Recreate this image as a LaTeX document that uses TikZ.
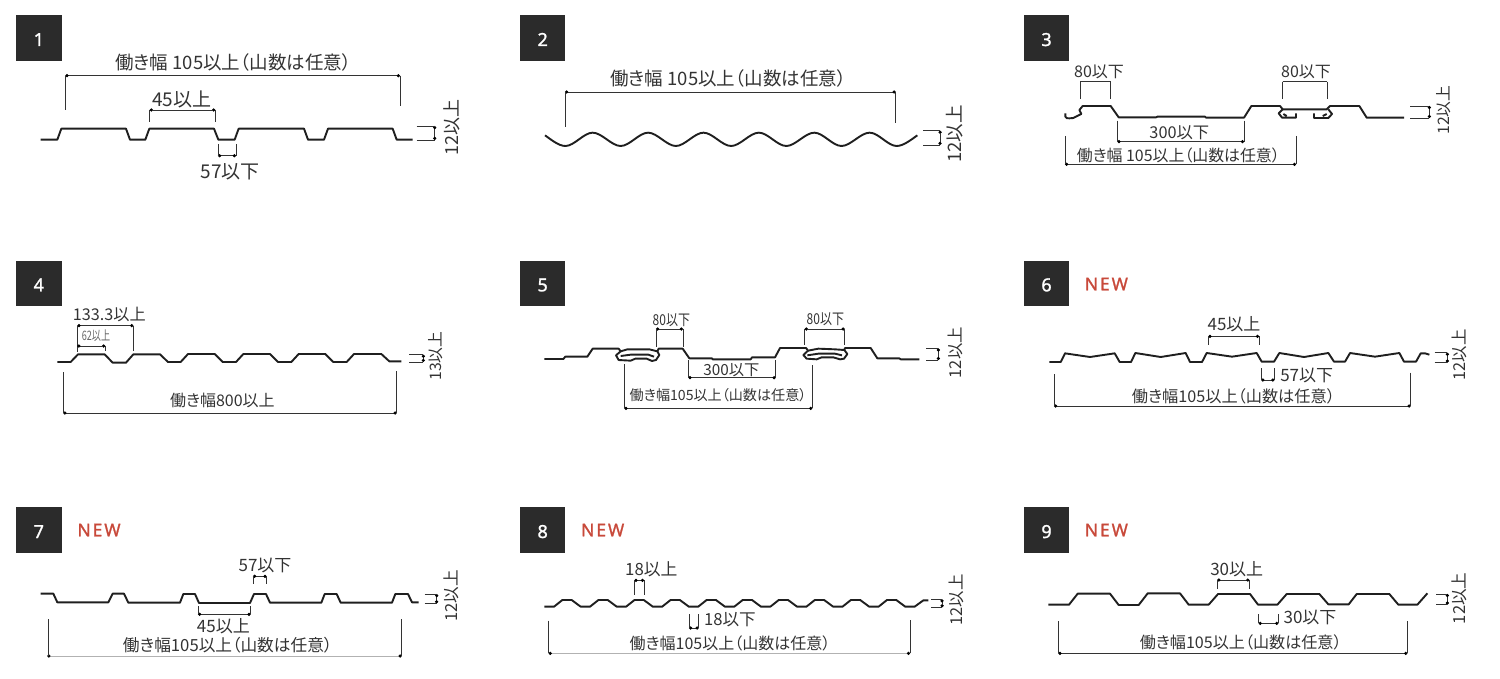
\documentclass[tikz,border=0pt]{standalone}
\usepackage{fontspec}
\setmainfont{Noto Sans CJK JP}[RawFeature=+palt]
\newfontfamily\badgefont{Noto Sans}[FakeBold=1.3]
\newfontfamily\tagfont{Noto Sans}[LetterSpace=11,FakeBold=1.3]
\usetikzlibrary{arrows.meta}
\definecolor{badgegray}{HTML}{2B2B2B}
\definecolor{inkgray}{HTML}{333333}
\definecolor{tagred}{HTML}{C8493A}
\tikzset{
    sheet/.style={draw=black!88,line width=1.9pt,line join=round},
    guide/.style={draw=inkgray,line width=.7pt},
    span/.style={guide,{Circle[length=3.2pt,black]}-{Circle[length=3.2pt,black]}},
    fadedspan/.style={span,draw=black!30},
    dimlabel/.style={inner sep=0pt,text=inkgray,font=\fontsize{#1pt}{#1pt}\selectfont},
    dimlabel/.default=15,
    upright/.style={dimlabel=#1,rotate=90},
    upright/.default=16,
    badge/.style={fill=badgegray,text=white,minimum size=45.5pt,inner sep=0pt,
        text height=16pt,text depth=0pt,font=\badgefont\fontsize{18pt}{18pt}\selectfont},
    tag/.style={inner sep=0pt,text=tagred,font=\tagfont\fontsize{17.5pt}{18pt}\selectfont}
}

\begin{document}
\begin{tikzpicture}[x=0.33333pt,y=-0.33333pt]
    \useasboundingbox (0,0) rectangle (4500,2037);
    \begin{scope}[
        yshift=-10pt
    ]
        \node[badge] (badge1) at (116.5,84) {1};
        \draw[sheet] (122,389) -- (172,389) -- (184,356) -- (378,356) -- (390,389) -- (436,389)
            -- (448,356) -- (642,356) -- (655,389) -- (704,389) -- (716,356) -- (912,356)
            -- (924,389) -- (972,389) -- (984,356) -- (1178,356) -- (1190,389) -- (1238,389);
        \draw[span] (196,197) -- (1200,197);
        \draw[guide] (196,197) -- (196,300) (1200,197) -- (1200,288);
        \node[dimlabel=18.5] (width1) at (700,158) {働き幅 105以上（山数は任意）};
        \draw[span] (449,300) -- (646,300);
        \draw[guide] (449,300) -- (449,337) (646,300) -- (646,337);
        \node[dimlabel=19] (crest1) at (545,268) {45以上};
        \draw[span] (654,437) -- (708,437);
        \draw[guide] (654,402) -- (654,437) (708,402) -- (708,437);
        \node[dimlabel=19] (gap1) at (690,486) {57以下};
        \draw[span] (1304,348) -- (1304,390);
        \draw[guide] (1250,348) -- (1304,348) (1250,390) -- (1304,390);
        \node[upright=18] (rise1) at (1354,352) {12以上};
    \end{scope}
    \begin{scope}[
        xshift=510pt,
        yshift=-10pt
    ]
        \node[badge] (badge2) at (98,84) {2};
        \draw[sheet,looseness=.75] (105,376) to[out=-35,in=180] (166,408)
            \foreach \i in {0,...,5} {
                to[out=0,in=180] ({248+166.2*\i},368)
                to[out=0,in=180] ({332+165.6*\i},408)
            }
            to[out=0,in=-145] (1222,376);
        \draw[span] (165,246) -- (1157,246);
        \draw[guide] (165,246) -- (165,350) (1157,246) -- (1157,338);
        \node[dimlabel=18.5] (width2) at (655,206) {働き幅 105以上（山数は任意）};
        \draw[span] (1290,362) -- (1290,405);
        \draw[guide] (1240,362) -- (1290,362) (1240,405) -- (1290,405);
        \node[upright=18.5] (rise2) at (1333,372) {12以上};
    \end{scope}
    \begin{scope}[
        xshift=1020pt,
        yshift=-10pt
    ]
        \node[badge] (badge3) at (79.5,84) {3};
        \draw[sheet] (136,310) -- (136,320) to[out=-90,in=180] (148,325) -- (160,324) -- (184,312)
            -- (178,300) -- (188,288) -- (272,288) -- (296,322) -- (408,322) -- (412,320)
            -- (555,320) -- (558,323) -- (672,323) -- (694,288) -- (780,288) -- (788,298)
            -- (920,298) -- (930,288) -- (1018,288) -- (1040,323) -- (1152,323);
        \draw[sheet] (788,298) -- (776,310) -- (786,323) -- (828,323) -- (828,310)
            (790,312) -- (800,318);
        \draw[sheet] (925,298) -- (936,312) -- (925,324) -- (882,324) -- (882,310)
            (920,312) -- (908,318);
        \draw[guide] (181,215) -- (272,215) (181,215) -- (181,268) (272,215) -- (272,268);
        \node[dimlabel=16] (crestl3) at (237,187) {80以下};
        \draw[guide] (788,215) -- (922,215) (788,215) -- (788,268) (922,215) -- (922,268);
        \node[dimlabel=16] (crestr3) at (858,187) {80以下};
        \draw[span] (292,395) -- (672,395);
        \draw[guide] (292,332) -- (292,395) (672,332) -- (672,395);
        \node[dimlabel=16.3] (pan3) at (478,367) {300以下};
        \draw[span] (135,463) -- (828,463);
        \draw[guide] (135,378) -- (135,463) (828,378) -- (828,463);
        \node[dimlabel=15.9] (width3) at (475,436) {働き幅 105以上（山数は任意）};
        \draw[span] (1228,288) -- (1228,324);
        \draw[guide] (1170,288) -- (1228,288) (1170,324) -- (1228,324);
        \node[upright=15.8] (rise3) at (1272,300) {12以上};
    \end{scope}
    \begin{scope}[
        yshift=-250pt
    ]
        \node[badge] (badge4) at (116.5,100) {4};
        \draw[sheet] (172,336) -- (212,336) -- (234,313) -- (314,313) -- (338,338) -- (378,338)
            -- (400,313) -- (480,313) -- (504,336) -- (542,336) -- (564,312) -- (644,312)
            -- (668,336) -- (708,336) -- (730,312) -- (810,312) -- (834,336) -- (874,336)
            -- (896,312) -- (976,312) -- (1000,336) -- (1040,336) -- (1062,312) -- (1144,312)
            -- (1168,334) -- (1204,334);
        \draw[span] (232,227) -- (400,227);
        \draw[guide] (232,227) -- (232,305) (400,227) -- (400,304);
        \node[dimlabel=16.2] (pitch4) at (328,192) {133.3以上};
        \draw[span] (232,288) -- (316,288);
        \draw[guide] (316,288) -- (316,304);
        \node[dimlabel=13,xscale=.7,text=black!60] (crest4) at (288,258) {62以上};
        \draw[span] (190,489) -- (1190,489);
        \draw[guide] (190,366) -- (190,489) (1190,364) -- (1190,489);
        \node[dimlabel=16] (width4) at (667,452) {働き幅800以上};
        \draw[span] (1270,314) -- (1270,336);
        \draw[guide] (1228,314) -- (1270,314) (1228,336) -- (1270,336);
        \node[upright=15.8] (rise4) at (1308,318) {13以上};
    \end{scope}
    \begin{scope}[
        xshift=510pt,
        yshift=-250pt
    ]
        \node[badge] (badge5) at (98,100) {5};
        \draw[sheet] (103,327) -- (160,327) -- (166,320) -- (232,320) -- (248,296) -- (326,296)
            -- (332,304) -- (352,298) -- (418,298) -- (442,304) -- (446,296) -- (518,296)
            -- (538,325) -- (606,325) -- (608,328) -- (722,328) -- (726,322) -- (795,322)
            -- (810,294) -- (888,294) -- (894,302) -- (925,296) -- (975,298) -- (1003,300)
            -- (1005,294) -- (1082,294) -- (1102,325) -- (1168,325) -- (1172,328) -- (1228,328);
        \draw[sheet] (332,304) -- (318,316) -- (326,330) -- (362,332) -- (376,326) -- (410,326)
            -- (426,333) -- (438,330) -- (448,315) -- (442,304)
            (332,318) -- (362,314) -- (415,314) -- (432,320);
        \draw[sheet] (894,302) -- (880,315) -- (890,326) -- (920,328) -- (935,322) -- (970,322)
            -- (990,328) -- (1002,326) -- (1012,312) -- (1003,300)
            (892,316) -- (925,311) -- (975,311) -- (996,316);
        \draw[span] (438,237) -- (519,237);
        \draw[guide] (438,237) -- (438,290) (519,237) -- (519,290);
        \node[dimlabel=15,xscale=.8] (crestl5) at (484,210) {80以下};
        \draw[span] (884,237) -- (1004,237);
        \draw[guide] (884,237) -- (884,285) (1004,237) -- (1004,285);
        \node[dimlabel=15,xscale=.8] (crestr5) at (946,208) {80以下};
        \draw[span] (535,383) -- (797,383);
        \draw[guide] (535,330) -- (535,383) (797,330) -- (797,383);
        \node[dimlabel=15.3] (pan5) at (664,360) {300以下};
        \draw[span] (343,475) -- (907,475);
        \draw[guide] (343,343) -- (343,475) (907,345) -- (907,475);
        \node[dimlabel=14.1] (width5) at (624,436) {働き幅105以上（山数は任意）};
        \draw[span] (1285,295) -- (1285,330);
        \draw[guide] (1248,295) -- (1285,295) (1248,330) -- (1285,330);
        \node[upright=16.4] (rise5) at (1337,308) {12以上};
    \end{scope}
    \begin{scope}[
        xshift=1020pt,
        yshift=-250pt
    ]
        \node[badge] (badge6) at (79.5,100) {6};
        \node[tag] (tag6) at (259,102) {NEW};
        \draw[sheet] (88,336) -- (122,336) -- (135,310) -- (210,321) -- (284,310) -- (299,336)
            -- (333,336) -- (346,309) -- (422,321) -- (497,309) -- (510,336) -- (546,336)
            -- (560,309) -- (636,320) -- (710,309) -- (725,335) -- (762,335) -- (778,309)
            -- (852,321) -- (925,309) -- (942,335) -- (975,335) -- (990,309) -- (1065,320)
            -- (1138,309) -- (1152,335) -- (1188,335) -- (1202,310) -- (1215,310) -- (1228,314);
        \draw[span] (565,259) -- (717,259);
        \draw[guide] (565,259) -- (565,285) (717,259) -- (717,285);
        \node[dimlabel=17] (crest6) at (642,222) {45以上};
        \draw[span] (724,390) -- (763,390);
        \draw[guide] (724,355) -- (724,390) (763,355) -- (763,390);
        \node[dimlabel=17] (gap6) at (860,375) {57以下};
        \draw[span] (102,468) -- (1172,468);
        \draw[guide] (102,372) -- (102,468) (1172,368) -- (1172,468);
        \node[dimlabel=16.2] (width6) at (640,438) {働き幅105以上（山数は任意）};
        \draw[span] (1282,308) -- (1282,338);
        \draw[guide] (1244,308) -- (1282,308) (1244,338) -- (1282,338);
        \node[upright=16.4] (rise6) at (1318,315) {12以上};
    \end{scope}
    \begin{scope}[
        yshift=-490pt
    ]
        \node[badge] (badge7) at (116.5,120) {7};
        \node[tag] (tag7) at (297,120) {NEW};
        \draw[sheet] (122,311) -- (160,311) -- (172,337) -- (325,337) -- (338,311) -- (372,311)
            -- (385,338) -- (540,338) -- (550,312) -- (585,312) -- (597,339) -- (750,339)
            -- (762,312) -- (798,312) -- (810,338) -- (964,338) -- (974,312) -- (1010,312)
            -- (1022,338) -- (1176,338) -- (1186,312) -- (1224,312) -- (1236,337) -- (1256,337);
        \draw[span] (759,259) -- (800,259);
        \draw[guide] (759,259) -- (759,283) (800,259) -- (800,283);
        \node[dimlabel=17] (gap7) at (795,226) {57以下};
        \draw[span] (594,373) -- (752,373);
        \draw[guide] (594,348) -- (594,373) (752,348) -- (752,373);
        \node[dimlabel=17] (crest7) at (670,408) {45以上};
        \draw[fadedspan] (142,498) -- (1205,498);
        \draw[guide] (145,388) -- (145,498) (1205,388) -- (1205,498);
        \node[dimlabel=16.7] (width7) at (683,465) {働き幅105以上（山数は任意）};
        \draw[span] (1310,312) -- (1310,340);
        \draw[guide] (1274,312) -- (1310,312) (1274,340) -- (1310,340);
        \node[upright=16.6] (rise7) at (1355,318) {12以上};
    \end{scope}
    \begin{scope}[
        xshift=510pt,
        yshift=-490pt
    ]
        \node[badge] (badge8) at (98,120) {8};
        \node[tag] (tag8) at (278,120) {NEW};
        \draw[sheet] (103,350) -- (132,350)
            \foreach \i in {0,...,9} {
                -- ({157+108.2*\i},330) -- ({185+108.2*\i},330)
                -- ({212+108.2*\i},350) -- ({240+108.2*\i},350)
            }
            -- (1240,331) -- (1255,331);
        \draw[span] (373,271) -- (402,271);
        \draw[guide] (373,271) -- (373,316) (402,271) -- (402,316);
        \node[dimlabel=16.8] (crest8) at (424,238) {18以上};
        \draw[span] (537,414) -- (566,414);
        \draw[guide] (537,372) -- (537,414) (566,372) -- (566,414);
        \node[dimlabel=16.6] (gap8) at (660,390) {18以下};
        \draw[fadedspan] (116,490) -- (1200,490);
        \draw[guide] (116,392) -- (116,490) (1200,390) -- (1200,490);
        \node[dimlabel=16] (width8) at (660,460) {働き幅105以上（山数は任意）};
        \draw[span] (1296,328) -- (1296,352);
        \draw[guide] (1264,328) -- (1296,328) (1264,352) -- (1296,352);
        \node[upright=16.4] (rise8) at (1338,330) {12以上};
    \end{scope}
    \begin{scope}[
        xshift=1020pt,
        yshift=-490pt
    ]
        \node[badge] (badge9) at (79.5,120) {9};
        \node[tag] (tag9) at (259,120) {NEW};
        \draw[sheet] (85,344) -- (147,344) -- (173,311) -- (270,311) -- (296,345) -- (356,345)
            -- (383,310) -- (480,310) -- (506,344) -- (566,344) -- (594,312) -- (690,312)
            -- (714,344) -- (772,344) -- (800,312) -- (898,312) -- (925,343) -- (986,343)
            -- (1010,312) -- (1108,312) -- (1135,344) -- (1192,344) -- (1222,310);
        \draw[span] (592,270) -- (688,270);
        \draw[guide] (592,270) -- (592,296) (688,270) -- (688,296);
        \node[dimlabel=17] (crest9) at (650,238) {30以上};
        \draw[span] (716,400) -- (775,400);
        \draw[guide] (716,372) -- (716,400) (775,372) -- (775,400);
        \node[dimlabel=17] (gap9) at (870,382) {30以下};
        \draw[span] (115,490) -- (1162,490);
        \draw[guide] (115,394) -- (115,490) (1162,394) -- (1162,490);
        \node[dimlabel=16.1] (width9) at (662,456) {働き幅105以上（山数は任意）};
        \draw[span] (1282,312) -- (1282,344);
        \draw[guide] (1248,312) -- (1282,312) (1248,344) -- (1282,344);
        \node[upright=16.6] (rise9) at (1318,325) {12以上};
    \end{scope}
\end{tikzpicture}
\end{document}
